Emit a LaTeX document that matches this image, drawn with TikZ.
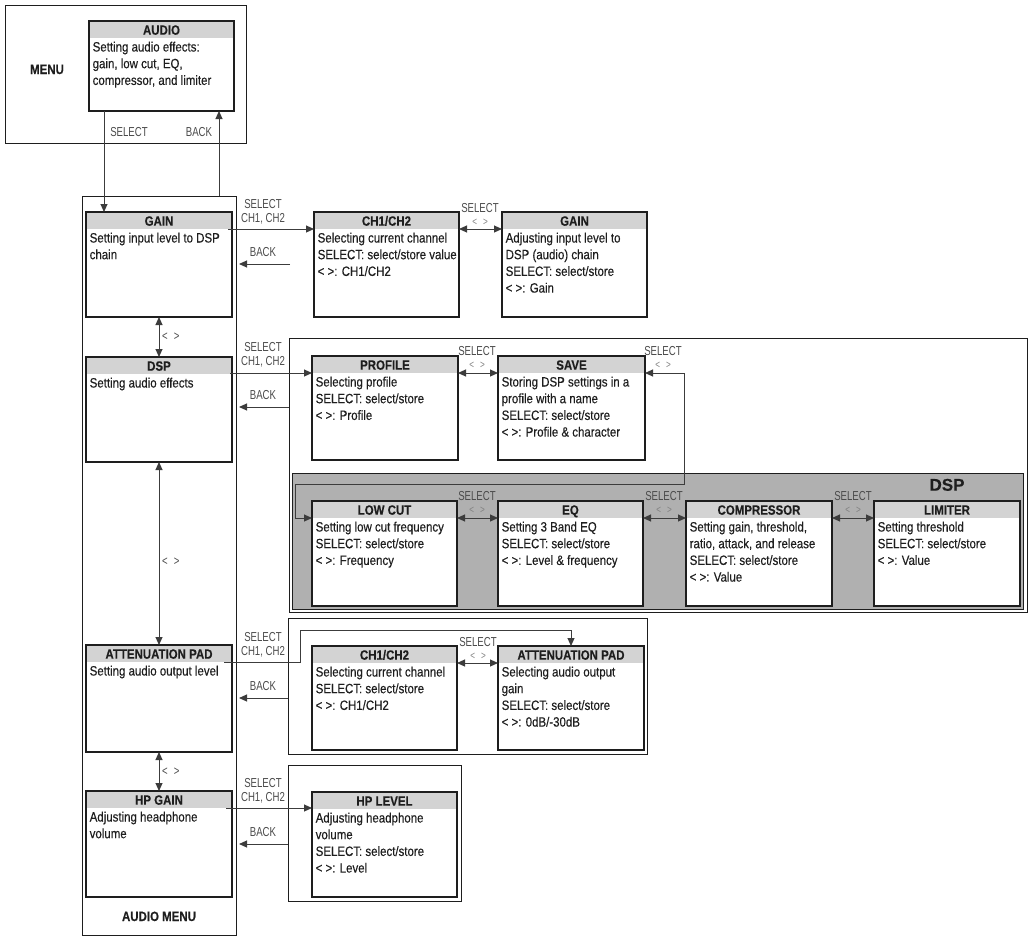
\documentclass[tikz,border=0pt]{standalone}
\usepackage{fontspec}
\setmainfont{Liberation Sans}[FakeStretch=0.85,FakeBold=0.25]
\newfontfamily\lblfnt{Liberation Sans}[FakeStretch=0.74]
\newfontfamily\plainfnt{Liberation Sans}[FakeBold=0.25]
\usetikzlibrary{arrows.meta}
\definecolor{hdr}{RGB}{211,211,211}
\definecolor{dspg}{RGB}{176,176,176}
\definecolor{ink}{RGB}{30,30,30}
\definecolor{lbl}{RGB}{75,75,75}
\definecolor{wire}{RGB}{60,60,60}
\tikzset{
 mbox/.style={draw=ink, line width=1.4pt, fill=white, inner sep=0pt, outer sep=0pt, rectangle,
   path picture={\fill[hdr] (path picture bounding box.north west) rectangle ([yshift=-17pt]path picture bounding box.north east);}},
 grp/.style={draw=ink, line width=1pt, inner sep=0pt, outer sep=0pt, rectangle},
 ttl/.style={anchor=base, inner sep=0pt, text=ink, font=\fontsize{13.5}{16}\selectfont\bfseries},
 bdy/.style={anchor=base west, inner sep=0pt, text=ink},
 big/.style={anchor=base, inner sep=0pt, text=ink, font=\fontsize{13.5}{16}\selectfont\bfseries},
 lab/.style={anchor=base, inner sep=0pt, text=lbl, font=\lblfnt\fontsize{13}{15}\selectfont},
 sml/.style={anchor=base, inner sep=0pt, text=lbl!70, font=\lblfnt\fontsize{11}{13}\selectfont},
 conn/.style={draw=wire, line width=1pt, -{Triangle[length=8pt,width=7pt]}},
 dconn/.style={draw=wire, line width=1pt, {Triangle[length=8pt,width=7pt]}-{Triangle[length=8pt,width=7pt]}},
}
\newcommand\mnbox[7]{%
  \node[mbox, minimum width={#4-#2}, minimum height={#5-#3}] (#1) at ({(#2+#4)/2},{(#3+#5)/2}) {};
  \node[ttl] (#1-t) at ([yshift=-13.7pt]#1.north) {#6};
  \node[bdy] (#1-b) at ([xshift=3.5pt,yshift=-30.5pt]#1.north west) {\parbox[t]{170pt}{\raggedright\fontsize{13.5}{16.7}\selectfont #7}};
}
\newcommand\grpbox[6]{%
  \node[grp, minimum width={#4-#2}, minimum height={#5-#3}, #6] (#1) at ({(#2+#4)/2},{(#3+#5)/2}) {};
}
\newcommand\lr[1]{<\hspace{#1}>}
\begin{document}
\begin{tikzpicture}[x=1pt,y=-1pt]
\useasboundingbox (0,0) rectangle (1031,937);
% group boxes
\grpbox{menu}{5}{5}{246}{143}{fill=white}
\grpbox{amenu}{82}{196}{236}{935}{fill=white}
\grpbox{dspgrp}{289}{338}{1027}{612}{fill=white}
\grpbox{dspgray}{292}{473}{1023}{609}{fill=dspg}
\grpbox{attgrp}{288}{618}{647}{754}{fill=white}
\grpbox{hpgrp}{288}{765}{461}{901}{fill=white}
\node[big] (menulbl) at (47,74) {MENU};
\node[big] (amenulbl) at (159,921) {AUDIO MENU};
\node[anchor=base, inner sep=0pt, text=ink, font=\plainfnt\fontsize{17}{20}\selectfont\bfseries] (dsplbl) at (947,490.7) {DSP};
% boxes
\mnbox{audio}{89}{21}{234}{111}{AUDIO}{Setting audio effects:\\gain, low cut, EQ,\\compressor, and limiter}
\mnbox{gain}{86}{212}{232}{317}{GAIN}{Setting input level to DSP\\chain}
\mnbox{ch12a}{314}{212}{459}{317}{CH1/CH2}{Selecting current channel\\SELECT: select/store value\\< >: CH1/CH2}
\mnbox{gain2}{502}{212}{647}{317}{GAIN}{Adjusting input level to\\DSP (audio) chain\\SELECT: select/store\\< >: Gain}
\mnbox{dsp}{86}{357}{232}{462}{DSP}{Setting audio effects}
\mnbox{profile}{312}{356}{458}{460}{PROFILE}{Selecting profile\\SELECT: select/store\\< >: Profile}
\mnbox{save}{498}{356}{645}{460}{SAVE}{Storing DSP settings in a\\profile with a name\\SELECT: select/store\\< >: Profile \& character}
\mnbox{lowcut}{312}{501}{457}{606}{LOW CUT}{Setting low cut frequency\\SELECT: select/store\\< >: Frequency}
\mnbox{eq}{498}{501}{643}{606}{EQ}{Setting 3 Band EQ\\SELECT: select/store\\< >: Level \& frequency}
\mnbox{comp}{686}{501}{832}{606}{COMPRESSOR}{Setting gain, threshold,\\ratio, attack, and release\\SELECT: select/store\\< >: Value}
\mnbox{limiter}{874}{501}{1020}{606}{LIMITER}{Setting threshold\\SELECT: select/store\\< >: Value}
\mnbox{att}{86}{645}{232}{752}{ATTENUATION PAD}{Setting audio output level}
\mnbox{ch12b}{312}{646}{457}{750}{CH1/CH2}{Selecting current channel\\SELECT: select/store\\< >: CH1/CH2}
\mnbox{att2}{498}{646}{644}{750}{ATTENUATION PAD}{Selecting audio output\\gain\\SELECT: select/store\\< >: 0dB/-30dB}
\mnbox{hpgain}{86}{791}{232}{897}{HP GAIN}{Adjusting headphone\\volume}
\mnbox{hplevel}{312}{792}{457}{897}{HP LEVEL}{Adjusting headphone\\volume\\SELECT: select/store\\< >: Level}
% menu connectors
\draw[conn] ([xshift=15pt]audio.south west) -- ([xshift=15pt]audio.south west |- gain.north);
\draw[conn] ([xshift=-15pt]audio.south east |- amenu.north) -- ([xshift=-15pt]audio.south east);
\node[lab] (msel) at (129,136.7) {SELECT};
\node[lab] (mback) at (199,136.7) {BACK};
% left column
\draw[dconn] (gain.south) -- (dsp.north);
\draw[dconn] (dsp.south) -- (att.north);
\draw[dconn] (att.south) -- (hpgain.north);
\node[lab, anchor=base west] (lr1) at (162,340) {\lr{6pt}};
\node[lab, anchor=base west] (lr2) at (162,565) {\lr{6pt}};
\node[lab, anchor=base west] (lr3) at (162,775) {\lr{6pt}};
% gain row
\draw[conn] ([xshift=-4pt,yshift=-17pt]gain.north east) -- ([yshift=-17pt]ch12a.north west);
\coordinate (bk1) at (290,264);
\draw[conn, shorten >=3pt] (bk1) -- (bk1 -| amenu.east);
\node[lab] (s1) at (263,208) {SELECT};
\node[lab] (c1) at (263,222) {CH1, CH2};
\node[lab] (b1) at (263,256) {BACK};
\draw[dconn] ([yshift=-17pt]ch12a.north east) -- ([yshift=-17pt]gain2.north west);
\node[lab] (s1b) at (480,212) {SELECT};
\node[sml] (a1b) at (480,225) {\lr{6pt}};
% dsp row
\draw[conn] ([xshift=-2pt,yshift=-16pt]dsp.north east) -- ([yshift=-17pt]profile.north west);
\coordinate (bk2) at (289,407);
\draw[conn, shorten >=3pt] (bk2) -- (bk2 -| amenu.east);
\node[lab] (s2) at (263,351) {SELECT};
\node[lab] (c2) at (263,365) {CH1, CH2};
\node[lab] (b2) at (263,399) {BACK};
\draw[dconn] ([yshift=-17pt]profile.north east) -- ([yshift=-17pt]save.north west);
\node[lab] (s2b) at (477,355.5) {SELECT};
\node[sml] (a2b) at (477,368) {\lr{6pt}};
\coordinate (r1) at (684,484);
\coordinate (r2) at (295,484);
\draw[dconn] ([yshift=-17pt]save.north east) -| (r1) -- (r2) |- ([yshift=-17pt]lowcut.north west);
\node[lab] (s2c) at (663,355.5) {SELECT};
\node[sml] (a2c) at (663,368) {\lr{6pt}};
% dsp inner row
\draw[dconn] ([yshift=-17pt]lowcut.north east) -- ([yshift=-17pt]eq.north west);
\draw[dconn] ([yshift=-17pt]eq.north east) -- ([yshift=-17pt]comp.north west);
\draw[dconn] ([yshift=-17pt]comp.north east) -- ([yshift=-17pt]limiter.north west);
\node[lab] (s3a) at (477,500.5) {SELECT};
\node[sml] (a3a) at (477,513) {\lr{6pt}};
\node[lab] (s3b) at (664,500.5) {SELECT};
\node[sml] (a3b) at (664,513) {\lr{6pt}};
\node[lab] (s3c) at (853,500.5) {SELECT};
\node[sml] (a3c) at (853,513) {\lr{6pt}};
% attenuation row
\coordinate (ak) at (300,630);
\draw[conn] ([xshift=-8pt,yshift=-17pt]att.north east) -| (ak) -| (att2.north);
\coordinate (bk3) at (288,698);
\draw[conn, shorten >=3pt] (bk3) -- (bk3 -| amenu.east);
\node[lab] (s4) at (263,641) {SELECT};
\node[lab] (c4) at (263,655) {CH1, CH2};
\node[lab] (b4) at (263,690) {BACK};
\draw[dconn] ([yshift=-17pt]ch12b.north east) -- ([yshift=-17pt]att2.north west);
\node[lab] (s4b) at (478,646.5) {SELECT};
\node[sml] (a4b) at (478,659) {\lr{6pt}};
% hp row
\draw[conn] ([xshift=-6pt,yshift=-17pt]hpgain.north east) -- ([yshift=-16pt]hplevel.north west);
\coordinate (bk4) at (288,844);
\draw[conn, shorten >=3pt] (bk4) -- (bk4 -| amenu.east);
\node[lab] (s5) at (263,787.7) {SELECT};
\node[lab] (c5) at (263,801.7) {CH1, CH2};
\node[lab] (b5) at (263,836) {BACK};
\end{tikzpicture}
\end{document}
